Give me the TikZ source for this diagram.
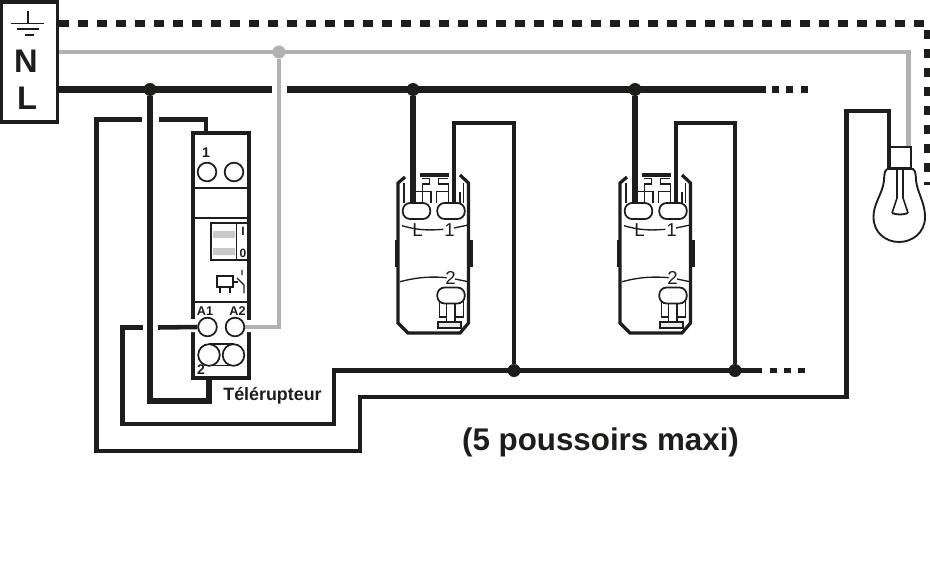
\documentclass[tikz,border=0pt]{standalone}
\usepackage{fontspec}
\setmainfont{Liberation Sans}
\usetikzlibrary{positioning}
\definecolor{wireblack}{HTML}{1D1D1B}
\definecolor{wiregray}{HTML}{B2B2B2}
\tikzset{thick wire/.style = {draw=wireblack, line width = 5pt}}
\tikzset{thin wire/.style = {draw=wireblack, line width = 3.4pt}}
\tikzset{gray wire/.style = {draw=wiregray, line width = 3.7pt}}
\tikzset{earth wire/.style = {draw=wireblack, line width = 5pt, dash pattern = on 7pt off 7.25pt}}
\tikzset{casing/.style = {draw=wireblack, line width = 2.8pt}}
\tikzset{fine/.style = {draw=wireblack, line width = 1pt}}
\tikzset{terminal/.style = {draw=wireblack, fill=white, line width = 1.3pt, circle, inner sep = 0, minimum size = 14pt}}
\tikzset{junction/.style = {fill, circle, inner sep = 0, minimum size = 9.75pt}}
\tikzset{pill/.style = {draw=wireblack, fill=white, line width = 1.3pt, rounded corners = 5.5pt, minimum width = 20.6pt, minimum height = 12pt, inner sep = 0}}
\tikzset{tag/.style = {inner sep = 0, text=wireblack, font = \bfseries\fontsize{9.5}{11}\selectfont}}
\tikzset{pin tag/.style = {inner sep = 0, text=wireblack, font = \fontsize{14}{16}\selectfont}}
\newcommand{\pushbutton}[2]{
  \begin{scope}[shift={(#1, 0)}]
    \draw [casing, line width = 2.4pt] (-6, 177) -- (-13, 183) -- (-13, 323) -- (-3, 333) -- (49, 333) -- (57.5, 323) -- (57.5, 183) -- (49, 175);
    \draw [casing, line width = 3pt] (-14.5, 240) -- (-14.5, 267);
    \draw [casing, line width = 3pt] (60, 240) -- (60, 267);
    \draw [fine] (-9, 225.7) .. controls (3, 229) and (12, 231) .. (32.3, 229.3);
    \draw [fine] (43, 228) -- (57, 225);
    \draw [fine] (-11, 281.7) .. controls (3, 278) and (17, 276) .. (35.7, 277.7);
    \draw [fine] (44, 279) -- (57, 281.7);
    \draw [casing, line width = 2.8pt] (9, 175) -- (38, 175);
    \draw [fine] (-7, 183) -- (-7, 203)
                 (10.7, 178.3) -- (18.3, 178.3) -- (18.3, 184) -- (10.7, 184)
                 (5, 191.7) -- (20, 191.7) -- (20, 203)
                 (11.7, 185) -- (11.7, 203)
                 (37.3, 178.3) -- (27.3, 178.3) -- (27.3, 184) -- (37.3, 184) -- (37.3, 203)
                 (37.3, 191.7) -- (25.7, 191.7) -- (25.7, 203)
                 (49, 191.7) -- (49, 203)
                 (52.3, 183) -- (52.3, 203);
    \draw [fine] (28.3, 300) -- (28.3, 317) -- (35.7, 317) -- (35.7, 300)
                 (44, 300) -- (44, 317) -- (52.3, 317) -- (52.3, 300)
                 (35.7, 317) -- (35.7, 322) (44, 317) -- (44, 322);
    \draw [fine, fill=wiregray!30] (27, 322) rectangle (50, 328);
    \node [pill] (#2 left) at (5.5, 211) {};
    \node [pill] (#2 right) at (40, 211) {};
    \node [pill] (#2 low) at (40, 295.5) {};
    \node [pin tag] at (6.5, 230.5) {L};
    \node [pin tag] at (38.5, 230.5) {1};
    \node [pin tag] at (39.5, 278) {2};
  \end{scope}
}

\begin{document}
\begin{tikzpicture}[x=0.75pt, y=-0.75pt]
  \useasboundingbox (0, 0) rectangle (930, 564);

  % supply box
  \node [casing, minimum width = 42pt, minimum height = 90.5pt, inner sep = 0] (supply) at (29.5, 62) {};
  \draw [fine, line width = 1.1pt] (28, 11) -- (28, 23.5) (11, 23.5) -- (44, 23.5);
  \draw [fine, line width = 1.5pt] (17, 29) -- (38.5, 29) (24.5, 34.7) -- (34, 34.7);
  \node [inner sep = 0, text=wireblack, font = \bfseries\fontsize{24.5}{28}\selectfont] at (26, 61) {N};
  \node [inner sep = 0, text=wireblack, font = \bfseries\fontsize{24.5}{28}\selectfont] at (27, 98.5) {L};

  % remote switch
  \node [casing, minimum width = 41.5pt, minimum height = 184pt, inner sep = 0] (remote) at (221, 255.5) {};
  \fill [white] (190, 319) rectangle (196, 332) (246, 320) rectangle (252, 332);
  \draw [fine] (193, 188) -- (249, 188) (193, 218) -- (249, 218) (193, 302) -- (249, 302);
  \node [terminal] (top left) at (207, 172) {};
  \node [terminal] (top right) at (234, 172) {};
  \node [tag, font = \bfseries\fontsize{10.5}{12}\selectfont] at (206, 153) {1};
  \draw [fine, line width = 1.2pt] (211, 223) rectangle (248, 260) (236.5, 223) -- (236.5, 260);
  \fill [wiregray!70] (213, 231) rectangle (235, 238) (213, 248) rectangle (235, 255);
  \node [tag, font = \bfseries\fontsize{9}{10}\selectfont] at (243, 231) {I};
  \node [tag, font = \bfseries\fontsize{9}{10}\selectfont] at (243, 253) {0};
  \draw [fine] (217, 276) rectangle (233, 287) (220, 287) -- (220, 293) (230, 287) -- (230, 293) (233, 282) -- (238, 282);
  \draw [fine] (242, 270) -- (242, 275) (237, 278) -- (244, 285) -- (244, 293);
  \node [terminal] (coil a) at (207.5, 327) {};
  \node [terminal] (coil b) at (235, 327) {};
  \node [tag] at (205, 311) {A1};
  \node [tag] at (237.5, 311) {A2};
  \draw [fine, line width = 1.3pt] (209, 344) -- (234, 344) (209, 365.5) -- (234, 365.5);
  \node [terminal, minimum size = 16.2pt] (out a) at (209, 355) {};
  \node [terminal, minimum size = 16.2pt] (out b) at (233.5, 355) {};
  \node [tag, font = \bfseries\fontsize{10.5}{12}\selectfont] at (201, 370) {2};
  \node [tag, font = \bfseries\fontsize{13.4}{15}\selectfont] (remote label) at (272.5, 395.5) {Télérupteur};

  % wires
  \coordinate (earth corner) at (927, 23.7);
  \coordinate (earth end) at (927, 184.5);
  \draw [earth wire] (supply.east |- earth corner) -- (earth corner) -- (earth end);
  \coordinate (neutral corner) at (908.5, 52);
  \coordinate (neutral end) at (908.5, 147);
  \draw [gray wire] (supply.east |- neutral corner) -- (neutral corner) -- (neutral end);
  \node [junction, wiregray] (neutral tee) at (279, 52) {};
  \draw [gray wire] (neutral tee) -- (279, 327) -- (coil b.east);

  \node [junction, wireblack] (live a) at (150, 89.5) {};
  \node [junction, wireblack] (live b) at (413, 89.5) {};
  \node [junction, wireblack] (live c) at (635, 89.5) {};
  \draw [thick wire] (supply.east |- live a) -- (272, 89.5);
  \draw [thick wire] (287, 89.5) -- (766, 89.5);
  \draw [thick wire, dash pattern = on 5.25pt off 5.6pt] (772, 89.5) -- (808, 89.5);
  \draw [thick wire] (live a) -- (150, 401) -- (209, 401) -- (209, 378);
  \draw [thick wire] (live b) -- (413, 203);
  \draw [thick wire] (live c) -- (635, 203);

  \draw [thin wire] (142, 119.5) -- (96.5, 119.5) -- (96.5, 451) -- (360, 451) -- (360, 397) -- (846.5, 397) -- (846.5, 111) -- (889, 111) -- (889, 168);
  \draw [thin wire] (159, 119.5) -- (206, 119.5) -- (206, 132);
  \draw [thin wire] (143, 327.5) -- (122.5, 327.5) -- (122.5, 424) -- (334, 424) -- (334, 370.5) -- (762, 370.5);
  \draw [thin wire] (158, 327.5) -- (coil a.west);
  \draw [thin wire, dash pattern = on 5.25pt off 5.4pt] (770, 370.5) -- (806, 370.5);
  \node [junction, wireblack] (return a) at (514, 370.5) {};
  \node [junction, wireblack] (return b) at (735, 370.5) {};
  \draw [thin wire] (454, 203) -- (454, 123) -- (514, 123) -- (return a);
  \draw [thin wire] (676, 203) -- (676, 123) -- (735, 123) -- (return b);

  % push buttons
  \pushbutton{411}{first}
  \pushbutton{633}{second}

  % lamp
  \draw [casing, line width = 1.5pt] (889, 146.5) rectangle (911, 168);
  \draw [fine, line width = 1.4pt] (887, 169) -- (913, 169)
    .. controls (917, 171) and (915, 180) .. (917, 186) .. controls (920, 197) and (925, 205) .. (925, 217)
    .. controls (925, 233) and (912, 242) .. (899, 242) .. controls (886, 242) and (873.5, 233) .. (873.5, 217)
    .. controls (873.5, 205) and (880, 197) .. (883, 186) .. controls (885, 180) and (883, 171) .. (887, 169);
  \draw [fine, line width = 1.2pt] (897, 169) -- (897, 198) -- (892, 213) (903, 169) -- (903, 198) -- (908, 213);
  \draw [fine, line width = 1.4pt] (892, 213) .. controls (897, 215) and (903, 215) .. (908, 213);

  \node [inner sep = 0, text=wireblack, font = \bfseries\fontsize{23.5}{28}\selectfont] (limit label) at (600.5, 442) {(5 poussoirs maxi)};
\end{tikzpicture}
\end{document}
